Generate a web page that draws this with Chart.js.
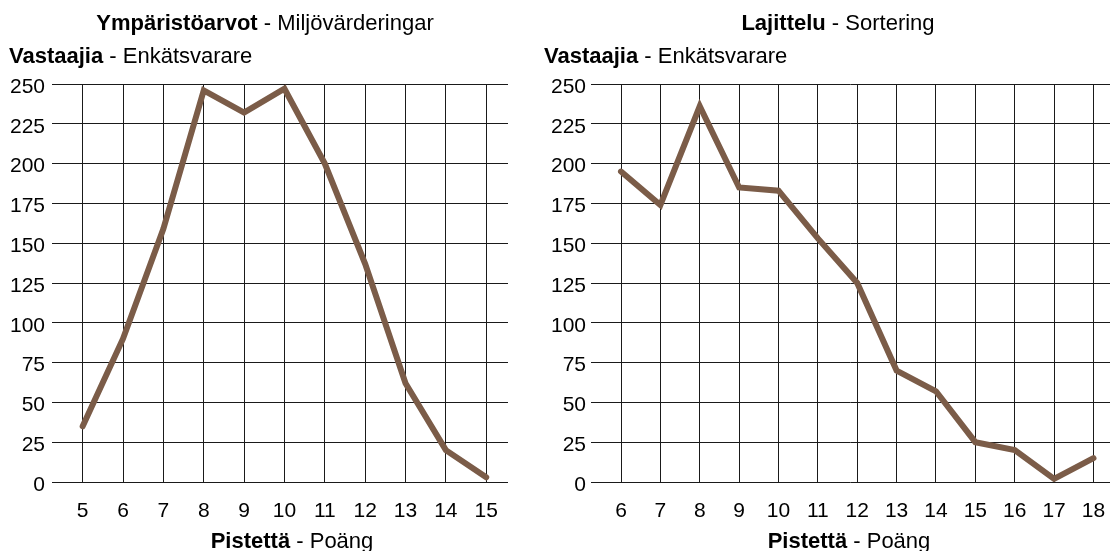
<!DOCTYPE html>
<html>
<head>
<meta charset="utf-8">
<script src="https://cdn.jsdelivr.net/npm/chart.js@4.4.1/dist/chart.umd.min.js"></script>
<style>
  body { margin: 0; background: #fff; overflow: hidden; }
  .wrap { position: absolute; top: 0; height: 551px; }
  #w1 { left: 0; width: 535px; }
  #w2 { left: 535px; width: 575px; }
</style>
</head>
<body>
<div class="wrap" id="w1"><canvas id="chart1"></canvas></div>
<div class="wrap" id="w2"><canvas id="chart2"></canvas></div>
<script>
// data ------------------------------------------------------------
const scoresEnv = [5, 6, 7, 8, 9, 10, 11, 12, 13, 14, 15];
const respondentsEnv = [35, 90, 159, 246, 232, 247, 200, 137, 62, 20, 3];

const scoresSort = [6, 7, 8, 9, 10, 11, 12, 13, 14, 15, 16, 17, 18];
const respondentsSort = [195, 174, 236, 185, 183, 153, 125, 70, 57, 25, 20, 2, 15];

const yTicks = [0, 25, 50, 75, 100, 125, 150, 175, 200, 225, 250];

const FONT = '"Liberation Sans", Arial, Helvetica, sans-serif';
const LINE_COLOR = '#7b5c48';
const GRID_COLOR = '#1a1a1a';

// draws "bold - normal" labels (title, axis titles)
const mixedLabels = {
    id: 'mixedLabels',
    afterDraw(chart, args, opts) {
        const ctx = chart.ctx;
        ctx.save();
        ctx.fillStyle = '#000';
        ctx.textBaseline = 'alphabetic';
        ctx.textAlign = 'left';
        opts.items.forEach(it => {
            const boldFont = 'bold 22px ' + FONT;
            const normFont = '22px ' + FONT;
            ctx.font = boldFont;
            const wb = ctx.measureText(it.bold).width;
            ctx.font = normFont;
            const wn = ctx.measureText(it.normal).width;
            const x = it.center ? it.x - (wb + wn) / 2 : it.x;
            ctx.font = boldFont;
            ctx.fillText(it.bold, x, it.y);
            ctx.font = normFont;
            ctx.fillText(it.normal, x + wb, it.y);
        });
        ctx.restore();
    }
};

function makeChart(id, xs, ys, cfg) {
    const ctx = document.getElementById(id).getContext('2d');
    return new Chart(ctx, {
        type: 'line',
        data: {
            datasets: [{
                data: xs.map((x, i) => ({x: x, y: ys[i]})),
                borderColor: LINE_COLOR,
                backgroundColor: LINE_COLOR,
                borderWidth: 6,
                borderCapStyle: 'round',
                pointRadius: 0,
                fill: false,
                tension: 0
            }]
        },
        plugins: [mixedLabels],
        options: {
            responsive: true,
            maintainAspectRatio: false,
            animation: false,
            layout: {
                padding: {top: 84, right: cfg.padRight, left: 0, bottom: 0}
            },
            plugins: {
                legend: {display: false},
                tooltip: {enabled: false},
                mixedLabels: {items: cfg.labels}
            },
            scales: {
                x: {
                    type: 'linear',
                    min: cfg.xMin,
                    max: cfg.xMax,
                    afterBuildTicks: s => { s.ticks = xs.map(v => ({value: v})); },
                    afterFit: s => {
                        s.height = 69;
                        s.paddingLeft = 0;
                        s.paddingRight = 0;
                    },
                    border: {display: false},
                    grid: {color: GRID_COLOR, lineWidth: 1, drawTicks: false},
                    ticks: {
                        padding: 17,
                        color: '#000',
                        font: {family: FONT, size: 21},
                        maxRotation: 0,
                        autoSkip: false
                    }
                },
                y: {
                    min: 0,
                    max: 250,
                    afterBuildTicks: s => { s.ticks = yTicks.map(v => ({value: v})); },
                    afterFit: s => { s.width = cfg.yWidth; },
                    border: {display: false},
                    grid: {color: GRID_COLOR, lineWidth: 1, drawTicks: false},
                    ticks: {
                        padding: cfg.yPad,
                        labelOffset: 3,
                        color: '#000',
                        font: {family: FONT, size: 21}
                    }
                }
            }
        }
    });
}

const chart1 = makeChart('chart1', scoresEnv, respondentsEnv, {
    xMin: 4.24, xMax: 15.54, yWidth: 52, padRight: 27, yPad: 7,
    labels: [
        {bold: 'Ympäristöarvot', normal: ' - Miljövärderingar', x: 265, y: 30, center: true},
        {bold: 'Vastaajia', normal: ' - Enkätsvarare', x: 9, y: 63, center: false},
        {bold: 'Pistettä', normal: ' - Poäng', x: 292, y: 548, center: true}
    ]
});

const chart2 = makeChart('chart2', scoresSort, respondentsSort, {
    xMin: 5.238, xMax: 18.42, yWidth: 56, padRight: 0, yPad: 5,
    labels: [
        {bold: 'Lajittelu', normal: ' - Sortering', x: 303, y: 30, center: true},
        {bold: 'Vastaajia', normal: ' - Enkätsvarare', x: 9, y: 63, center: false},
        {bold: 'Pistettä', normal: ' - Poäng', x: 314, y: 548, center: true}
    ]
});
</script>
</body>
</html>
